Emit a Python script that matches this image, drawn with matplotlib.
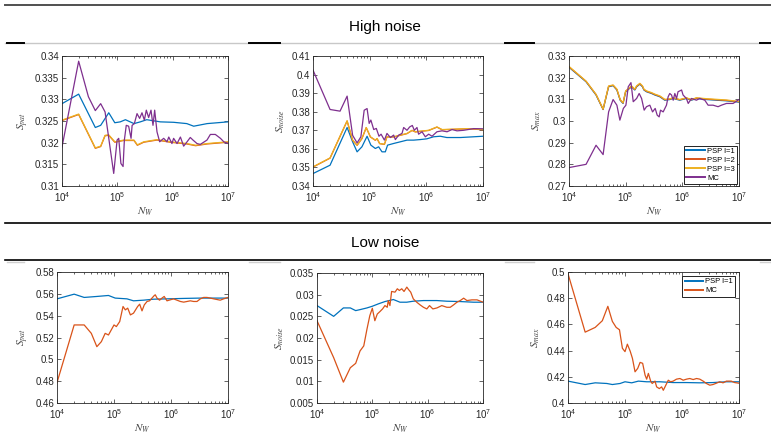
import numpy as np
import matplotlib
matplotlib.use('Agg')
import matplotlib.pyplot as plt
from matplotlib.lines import Line2D
from matplotlib.ticker import FuncFormatter, LogLocator, NullFormatter

plt.rcParams['font.family'] = ['Liberation Sans', 'DejaVu Sans']
plt.rcParams['mathtext.fontset'] = 'stix'

W, H = 771, 437
BLUE, RED, YEL, PUR = '#0072BD', '#D95319', '#EDB120', '#7E2F8E'

# ---------------- High noise: S_pat ----------------
hi_pat_psp1_n = [1e4, 2e4, 4e4, 5e4, 7e4, 9e4, 1.13e5, 1.4e5, 2e5, 2.6e5, 3.4e5, 6e5,
                 1.04e6, 1.8e6, 2.4e6, 4.2e6, 1e7]
hi_pat_psp1 = [0.3290, 0.3312, 0.3235, 0.3240, 0.3269, 0.3246, 0.3248, 0.3253, 0.3244, 0.3248,
               0.3253, 0.3248, 0.3247, 0.3244, 0.3238, 0.3244, 0.3248]
hi_pat_psp3_n = [1e4, 2e4, 4e4, 5e4, 6e4, 7e4, 9e4, 1.3e5, 2e5, 2.3e5, 3e5, 5.2e5, 9e5,
                 1.8e6, 2.6e6, 4.2e6, 1e7]
hi_pat_psp2 = [0.3251, 0.3265, 0.3187, 0.3191, 0.3216, 0.3217, 0.3201, 0.3205, 0.3205, 0.3194,
               0.3201, 0.3206, 0.3201, 0.3197, 0.3193, 0.3197, 0.3201]
hi_pat_psp3 = [0.3252, 0.3266, 0.3188, 0.3192, 0.3217, 0.3218, 0.3202, 0.3206, 0.3206, 0.3195,
               0.3202, 0.3207, 0.3202, 0.3198, 0.3194, 0.3198, 0.3202]
hi_pat_mc_n = [1e4, 2e4, 3e4, 4e4, 5e4, 6e4, 8.6e4, 9.9e4, 1.06e5, 1.16e5, 1.27e5, 1.34e5,
               1.45e5, 1.6e5, 1.77e5, 1.85e5, 2.03e5, 2.27e5, 2.53e5, 2.79e5, 3.08e5, 3.34e5,
               3.68e5, 4.06e5, 4.41e5, 4.73e5, 5.21e5, 5.82e5, 6.88e5, 7.9e5, 8.5e5, 9.7e5,
               1.04e6, 1.2e6, 1.38e6, 1.58e6, 1.82e6, 2.08e6, 2.33e6, 2.75e6, 3.16e6, 4.17e6,
               4.8e6, 5.9e6, 7.3e6, 8.4e6, 1e7]
hi_pat_mc = [0.3190, 0.3388, 0.3306, 0.3274, 0.3290, 0.3271, 0.3129, 0.3206, 0.3210, 0.3152,
             0.3145, 0.3206, 0.3240, 0.3238, 0.3210, 0.3240, 0.3244, 0.3267, 0.3256, 0.3269,
             0.3252, 0.3275, 0.3258, 0.3275, 0.3240, 0.3275, 0.3225, 0.3202, 0.3210, 0.3202,
             0.3213, 0.3198, 0.3210, 0.3198, 0.3213, 0.3192, 0.3202, 0.3212, 0.3206, 0.3198,
             0.3196, 0.3206, 0.3219, 0.3219, 0.3210, 0.3202, 0.3198]

# ---------------- High noise: S_noise ----------------
hi_noise_psp1_n = [1e4, 2e4, 4e4, 5e4, 6e4, 7.3e4, 9e4, 1.05e5, 1.26e5, 1.44e5, 1.65e5, 1.89e5,
                   2.07e5, 2.65e5, 3.48e5, 4.56e5, 5.97e5, 7.8e5, 1.02e6, 1.34e6, 1.76e6,
                   2.3e6, 4e6, 6.84e6, 1e7]
hi_noise_psp1 = [0.3467, 0.3512, 0.3715, 0.3638, 0.3584, 0.3611, 0.3668, 0.3620, 0.3602, 0.3611,
                 0.3584, 0.3584, 0.3620, 0.3629, 0.3638, 0.3647, 0.3647, 0.3650, 0.3654, 0.3665,
                 0.3668, 0.3661, 0.3661, 0.3665, 0.3668]
hi_noise_psp3_n = [1e4, 2e4, 4e4, 5e4, 6e4, 7.3e4, 8.7e4, 1.03e5, 1.26e5, 1.35e5, 1.5e5, 1.82e5,
                   2.02e5, 2.65e5, 3.48e5, 4.56e5, 5.6e5, 6.4e5, 8.9e5, 1.1e6, 1.54e6, 1.89e6,
                   3e6, 5.3e6, 1e7]
hi_noise_psp2 = [0.3502, 0.3550, 0.3750, 0.3646, 0.3619, 0.3655, 0.3714, 0.3664, 0.3646, 0.3655,
                 0.3628, 0.3624, 0.3664, 0.3664, 0.3673, 0.3682, 0.3699, 0.3691, 0.3696, 0.3699,
                 0.3717, 0.3703, 0.3705, 0.3708, 0.3703]
hi_noise_psp3 = [0.3503, 0.3551, 0.3751, 0.3647, 0.3620, 0.3656, 0.3715, 0.3665, 0.3647, 0.3656,
                 0.3629, 0.3625, 0.3665, 0.3665, 0.3674, 0.3683, 0.3700, 0.3692, 0.3697, 0.3700,
                 0.3718, 0.3704, 0.3706, 0.3709, 0.3704]
hi_noise_mc_n = [1e4, 2e4, 3e4, 4e4, 5e4, 6e4, 7e4, 8e4, 9e4, 9.8e4, 1.05e5, 1.18e5, 1.31e5,
                 1.46e5, 1.59e5, 1.82e5, 2.02e5, 2.32e5, 2.65e5, 2.84e5, 3.25e5, 3.72e5, 3.98e5,
                 4.56e5, 5.08e5, 5.66e5, 6.14e5, 6.84e5, 7.3e5, 8.4e5, 9.6e5, 1.1e6, 1.26e6,
                 1.54e6, 1.89e6, 2.32e6, 2.84e6, 3.48e6, 4.56e6, 6.84e6, 1e7]
hi_noise_mc = [0.4024, 0.3812, 0.3803, 0.3884, 0.3673, 0.3632, 0.3665, 0.3808, 0.3817, 0.3737,
               0.3755, 0.3704, 0.3710, 0.3668, 0.3679, 0.3647, 0.3683, 0.3661, 0.3674, 0.3650,
               0.3674, 0.3683, 0.3715, 0.3700, 0.3718, 0.3726, 0.3700, 0.3715, 0.3679, 0.3692,
               0.3665, 0.3679, 0.3668, 0.3692, 0.3697, 0.3692, 0.3704, 0.3697, 0.3700, 0.3709,
               0.3708]

# ---------------- High noise: S_max ----------------
hi_max_psp_n = [1e4, 2e4, 3e4, 4e4, 5e4, 6e4, 7e4, 8e4, 9e4, 1e5, 1.27e5, 1.45e5, 1.56e5,
                1.78e5, 1.98e5, 2.1e5, 2.33e5, 2.86e5, 3.27e5, 4e5, 4.9e5, 6e5, 6.9e5, 9e5,
                1.18e6, 1.45e6, 1.77e6, 2.66e6, 4e6, 6e6, 1e7]
hi_max_psp1 = [0.3248, 0.3181, 0.3120, 0.3053, 0.3158, 0.3163, 0.3143, 0.3096, 0.3081, 0.3135,
               0.3158, 0.3143, 0.3158, 0.3170, 0.3158, 0.3143, 0.3135, 0.3127, 0.3120, 0.3112,
               0.3096, 0.3099, 0.3104, 0.3096, 0.3104, 0.3096, 0.3104, 0.3099, 0.3096, 0.3093,
               0.3087]
hi_max_psp2 = [0.3250, 0.3183, 0.3122, 0.3054, 0.3160, 0.3165, 0.3145, 0.3098, 0.3083, 0.3137,
               0.3160, 0.3145, 0.3160, 0.3172, 0.3160, 0.3145, 0.3137, 0.3129, 0.3122, 0.3114,
               0.3098, 0.3101, 0.3106, 0.3098, 0.3106, 0.3098, 0.3106, 0.3101, 0.3098, 0.3095,
               0.3089]
hi_max_psp3 = [0.3252, 0.3184, 0.3123, 0.3055, 0.3162, 0.3166, 0.3147, 0.3099, 0.3084, 0.3139,
               0.3162, 0.3147, 0.3162, 0.3174, 0.3162, 0.3147, 0.3139, 0.3131, 0.3124, 0.3116,
               0.3100, 0.3102, 0.3107, 0.3099, 0.3107, 0.3099, 0.3107, 0.3103, 0.3100, 0.3097,
               0.3090]
hi_max_mc_n = [1e4, 2e4, 3e4, 4e4, 5e4, 6e4, 7e4, 7.9e4, 9.1e4, 1.01e5, 1.11e5, 1.24e5, 1.36e5,
               1.56e5, 1.73e5, 1.91e5, 2.12e5, 2.33e5, 2.67e5, 2.98e5, 3.32e5, 3.6e5, 3.9e5,
               4.12e5, 4.59e5, 5.25e5, 5.62e5, 6e5, 6.44e5, 6.9e5, 7.37e5, 7.9e5, 8.4e5, 9.7e5,
               1.03e6, 1.18e6, 1.27e6, 1.45e6, 1.77e6, 2.03e6, 2.49e6, 2.85e6, 3.49e6, 4.27e6,
               4.9e6, 6e6, 7.85e6, 1e7]
hi_max_mc = [0.2785, 0.2800, 0.2888, 0.2845, 0.3042, 0.3099, 0.3073, 0.3004, 0.3058, 0.3073,
             0.3158, 0.3177, 0.3089, 0.3104, 0.3127, 0.3104, 0.3050, 0.3066, 0.3073, 0.3042,
             0.3058, 0.3027, 0.3019, 0.3050, 0.3042, 0.3073, 0.3112, 0.3127, 0.3120, 0.3096,
             0.3127, 0.3104, 0.3135, 0.3143, 0.3120, 0.3104, 0.3081, 0.3104, 0.3096, 0.3104,
             0.3096, 0.3073, 0.3073, 0.3066, 0.3073, 0.3081, 0.3081, 0.3099]

# ---------------- Low noise: S_pat ----------------
lo_pat_psp1_n = [1e4, 2e4, 3e4, 5e4, 8e4, 1.05e5, 1.69e5, 2.2e5, 3.3e5, 4.97e5, 8.5e5, 1.67e6,
                 3.27e6, 1e7]
lo_pat_psp1 = [0.5554, 0.5597, 0.5567, 0.5576, 0.5585, 0.5561, 0.5554, 0.5536, 0.5542, 0.5551,
               0.5554, 0.5558, 0.5561, 0.5561]
lo_pat_mc_n = [1e4, 2e4, 3e4, 4e4, 5e4, 6e4, 7e4, 8e4, 1e5, 1.1e5, 1.26e5, 1.44e5, 1.58e5,
               1.74e5, 1.94e5, 2.2e5, 2.6e5, 2.82e5, 3.1e5, 3.4e5, 3.8e5, 4.2e5, 4.64e5, 5.1e5,
               5.3e5, 5.68e5, 6.3e5, 6.95e5, 7.6e5, 8.5e5, 9.7e5, 1.11e6, 1.27e6, 1.46e6,
               1.67e6, 1.91e6, 2.18e6, 2.5e6, 2.86e6, 3.27e6, 3.74e6, 4.28e6, 4.9e6, 5.6e6,
               7.3e6, 8.4e6, 1e7]
lo_pat_mc = [0.4787, 0.5315, 0.5315, 0.5238, 0.5116, 0.5162, 0.5238, 0.5223, 0.5315, 0.5300,
             0.5346, 0.5484, 0.5453, 0.5469, 0.5407, 0.5423, 0.5484, 0.5505, 0.5444, 0.5499,
             0.5530, 0.5536, 0.5561, 0.5585, 0.5591, 0.5561, 0.5542, 0.5561, 0.5576, 0.5536,
             0.5545, 0.5554, 0.5542, 0.5530, 0.5524, 0.5530, 0.5536, 0.5530, 0.5530, 0.5554,
             0.5567, 0.5567, 0.5561, 0.5554, 0.5542, 0.5554, 0.5567]

# ---------------- Low noise: S_noise ----------------
lo_noise_psp1_n = [1e4, 2e4, 3e4, 4e4, 5e4, 6e4, 8e4, 1e5, 1.28e5, 1.69e5, 2.4e5, 3.16e5,
                   4.18e5, 5.5e5, 8.4e5, 1.47e6, 2.22e6, 3.88e6, 6.8e6, 1e7]
lo_noise_psp1 = [0.02748, 0.02500, 0.02694, 0.02694, 0.02632, 0.02655, 0.02694, 0.02733,
                 0.02787, 0.02841, 0.02888, 0.02826, 0.02826, 0.02849, 0.02864, 0.02864,
                 0.02849, 0.02841, 0.02826, 0.02826]
lo_noise_mc_n = [1e4, 2e4, 3e4, 4e4, 5e4, 6e4, 7e4, 8e4, 9e4, 1e5, 1.11e5, 1.23e5, 1.37e5,
                 1.53e5, 1.69e5, 1.86e5, 1.94e5, 2.08e5, 2.23e5, 2.57e5, 2.83e5, 3.08e5,
                 3.4e5, 3.74e5, 4.2e5, 4.5e5, 4.94e5, 5.5e5, 6.35e5, 7.3e5, 8.4e5, 9.65e5,
                 1.08e6, 1.24e6, 1.47e6, 1.8e6, 2.22e6, 2.56e6, 2.94e6, 3.38e6, 3.88e6,
                 4.47e6, 5.13e6, 6.3e6, 7.8e6, 1e7]
lo_noise_mc = [0.02399, 0.01547, 0.00981, 0.01314, 0.01415, 0.01702, 0.01818, 0.02205,
               0.02515, 0.02686, 0.02399, 0.02554, 0.02609, 0.02671, 0.02748, 0.02709,
               0.02864, 0.02748, 0.03074, 0.03058, 0.03136, 0.03097, 0.03136, 0.03074,
               0.03174, 0.03120, 0.03058, 0.02903, 0.02826, 0.02764, 0.02709, 0.02671,
               0.02748, 0.02671, 0.02694, 0.02748, 0.02709, 0.02709, 0.02764, 0.02826,
               0.02864, 0.02919, 0.02864, 0.02880, 0.02880, 0.02826]

# ---------------- Low noise: S_max ----------------
lo_max_psp1_n = [1e4, 2e4, 3e4, 4.8e4, 6e4, 8.2e4, 1e5, 1.31e5, 1.72e5, 2.4e5, 4.1e5, 7e5,
                 1.2e6, 2.05e6, 3.5e6, 6e6, 1e7]
lo_max_psp1 = [0.4167, 0.4141, 0.4154, 0.4149, 0.4141, 0.4149, 0.4162, 0.4154, 0.4167, 0.4162,
               0.4162, 0.4156, 0.4156, 0.4154, 0.4156, 0.4162, 0.4162]
lo_max_mc_n = [1e4, 2e4, 3e4, 4e4, 5e4, 6e4, 7e4, 8e4, 9e4, 1e5, 1.1e5, 1.23e5, 1.35e5, 1.5e5,
               1.67e5, 1.84e5, 2.04e5, 2.25e5, 2.4e5, 2.57e5, 2.82e5, 3.0e5, 3.36e5, 3.59e5,
               4e5, 4.39e5, 4.7e5, 5.2e5, 5.74e5, 6.3e5, 7e5, 8e5, 9.2e5, 1.05e6, 1.2e6,
               1.37e6, 1.57e6, 1.8e6, 2.05e6, 2.35e6, 2.68e6, 3.07e6, 3.5e6, 4e6, 4.6e6,
               5.25e6, 6e6, 7.3e6, 8.4e6, 1e7]
lo_max_mc = [0.4987, 0.4541, 0.4577, 0.4628, 0.4738, 0.4623, 0.4577, 0.4559, 0.4418, 0.4392,
             0.4449, 0.4397, 0.4341, 0.4238, 0.4264, 0.4310, 0.4303, 0.4213, 0.4182, 0.4226,
             0.4167, 0.4149, 0.4167, 0.4123, 0.4110, 0.4123, 0.4097, 0.4136, 0.4174, 0.4162,
             0.4167, 0.4182, 0.4187, 0.4174, 0.4182, 0.4187, 0.4179, 0.4187, 0.4182, 0.4167,
             0.4149, 0.4136, 0.4141, 0.4151, 0.4162, 0.4154, 0.4167, 0.4167, 0.4156, 0.4151]


def px_box(x0, y0, x1, y1):
    # pixel box (top-left origin) -> figure fraction rect
    return [x0 / W, 1 - y1 / H, (x1 - x0) / W, (y1 - y0) / H]


def hline(fig, x0, x1, y, color, lw):
    fig.add_artist(Line2D([x0 / W, x1 / W], [1 - y / H, 1 - y / H],
                          transform=fig.transFigure, color=color, lw=lw))


def style_axes(ax, ylim, yticks, ylabel):
    ax.set_xscale('log')
    ax.set_xlim(1e4, 1e7)
    ax.set_ylim(*ylim)
    ax.set_yticks(yticks)
    ax.yaxis.set_major_formatter(FuncFormatter(lambda v, _: '%g' % round(v, 4)))
    ax.xaxis.set_major_locator(LogLocator(base=10, numticks=10))
    ax.xaxis.set_minor_locator(LogLocator(base=10, subs=np.arange(2, 10), numticks=20))
    ax.xaxis.set_major_formatter(FuncFormatter(
        lambda v, _: r'$\mathregular{10^{%d}}$' % round(np.log10(v))))
    ax.xaxis.set_minor_formatter(NullFormatter())
    ax.tick_params(which='both', direction='in', top=True, right=True,
                   width=0.5, colors='#262626', labelsize=7)
    ax.tick_params(axis='y', pad=2)
    ax.tick_params(axis='x', pad=3)
    ax.tick_params(which='major', length=3)
    ax.tick_params(which='minor', length=1.6)
    for s in ax.spines.values():
        s.set_linewidth(0.6)
        s.set_color('#262626')
    ax.set_xlabel(r'$N_W$', fontsize=8, labelpad=1, color='#404040')
    ax.set_ylabel(ylabel, fontsize=8, labelpad=3, color='#404040')


fig = plt.figure(figsize=(W / 100, H / 100), dpi=100)

# section rules and headings
hline(fig, 5, W, 5, '#505050', 1.4)
hline(fig, 5, W, 43, '#c8c8c8', 1.0)
for a, b in [(7, 24), (249, 280), (505, 534), (760, W)]:
    hline(fig, a, b, 43, 'black', 1.4)
hline(fig, 5, W, 223, 'black', 1.2)
hline(fig, 5, W, 260, 'black', 1.2)
for a, b in [(7, 24), (249, 280), (505, 534), (760, W)]:
    hline(fig, a, b, 262, '#d0d0d0', 1.0)
fig.text(385 / W, 1 - 27 / H, 'High noise', ha='center', va='center', fontsize=11)
fig.text(385 / W, 1 - 243 / H, 'Low noise', ha='center', va='center', fontsize=11)

lw = 0.9

# ---- top row
ax = fig.add_axes(px_box(62, 56, 228, 186))
ax.plot(hi_pat_psp1_n, hi_pat_psp1, color=BLUE, lw=lw)
ax.plot(hi_pat_psp3_n, hi_pat_psp2, color=RED, lw=lw)
ax.plot(hi_pat_psp3_n, hi_pat_psp3, color=YEL, lw=lw)
ax.plot(hi_pat_mc_n, hi_pat_mc, color=PUR, lw=lw)
style_axes(ax, (0.31, 0.34), np.arange(0.31, 0.3401, 0.005), r'$S_{pat}$')

ax = fig.add_axes(px_box(313, 56, 483, 186))
ax.plot(hi_noise_psp1_n, hi_noise_psp1, color=BLUE, lw=lw)
ax.plot(hi_noise_psp3_n, hi_noise_psp2, color=RED, lw=lw)
ax.plot(hi_noise_psp3_n, hi_noise_psp3, color=YEL, lw=lw)
ax.plot(hi_noise_mc_n, hi_noise_mc, color=PUR, lw=lw)
style_axes(ax, (0.34, 0.41), np.arange(0.34, 0.4101, 0.01), r'$S_{noise}$')

ax = fig.add_axes(px_box(569, 56, 739, 186))
ax.plot(hi_max_psp_n, hi_max_psp1, color=BLUE, lw=lw, label='PSP l=1')
ax.plot(hi_max_psp_n, hi_max_psp2, color=RED, lw=lw, label='PSP l=2')
ax.plot(hi_max_psp_n, hi_max_psp3, color=YEL, lw=lw, label='PSP l=3')
ax.plot(hi_max_mc_n, hi_max_mc, color=PUR, lw=lw, label='MC')
style_axes(ax, (0.27, 0.33), np.arange(0.27, 0.3301, 0.01), r'$S_{max}$')
leg = ax.legend(loc='lower right', fontsize=5.5, fancybox=False, edgecolor='black',
                framealpha=1, handlelength=2.4, handletextpad=0.3, borderpad=0.3,
                labelspacing=0.2, borderaxespad=0.25)
leg.get_frame().set_linewidth(0.6)
for l in leg.get_lines():
    l.set_linewidth(1.4)

# ---- bottom row
ax = fig.add_axes(px_box(57, 272, 228, 403))
ax.plot(lo_pat_psp1_n, lo_pat_psp1, color=BLUE, lw=lw)
ax.plot(lo_pat_mc_n, lo_pat_mc, color=RED, lw=lw)
style_axes(ax, (0.46, 0.58), np.arange(0.46, 0.5801, 0.02), r'$S_{pat}$')

ax = fig.add_axes(px_box(317, 273, 483, 403))
ax.plot(lo_noise_psp1_n, lo_noise_psp1, color=BLUE, lw=lw)
ax.plot(lo_noise_mc_n, lo_noise_mc, color=RED, lw=lw)
style_axes(ax, (0.005, 0.035), np.arange(0.005, 0.03501, 0.005), r'$S_{noise}$')

ax = fig.add_axes(px_box(568, 272, 739, 403))
ax.plot(lo_max_psp1_n, lo_max_psp1, color=BLUE, lw=lw, label='PSP l=1')
ax.plot(lo_max_mc_n, lo_max_mc, color=RED, lw=lw, label='MC')
style_axes(ax, (0.4, 0.5), np.arange(0.4, 0.5001, 0.02), r'$S_{max}$')
leg = ax.legend(loc='upper right', fontsize=5.5, fancybox=False, edgecolor='black',
                framealpha=1, handlelength=2.4, handletextpad=0.3, borderpad=0.3,
                labelspacing=0.2, borderaxespad=0.5)
leg.get_frame().set_linewidth(0.6)
for l in leg.get_lines():
    l.set_linewidth(1.4)

fig.savefig('out.png', dpi=100)
